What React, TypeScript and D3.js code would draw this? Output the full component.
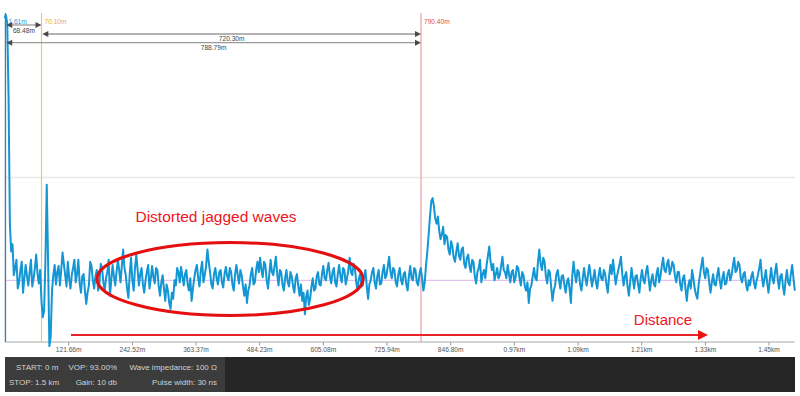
import React from "react";
import * as d3 from "d3";

// ---- data ----
const SAMPLE_STEP_M = 2.5; // trace sampled every 2.5 m from 0 to 1500 m
const traceAmplitude: number[] = [
  255, 258, 250, 180, 55, 28, 35, 5, 12, 20, -8, -2, 10, 18, -12, 2, 15, 4, -5, 8,
  20, -6, 2, 12, 25, 6, -3, 10, -20, -36, -30, 20, 93, 20, -64, -55, -10, 5, 15, -4,
  8, 14, -5, 10, 27, 16, 5, -6, 18, 2, -8, 5, 12, 20, -2, 6, 20, -3, -12, 4,
  6, -10, -23, -12, -5, 18, 14, 0, -8, 4, 10, -10, -3, 16, 12, -2, -10, 2, 8, 20,
  -15, 0, 15, 4, -5, 8, 20, 10, -2, 14, 30, 12, 5, -8, -17, 6, 22, 0, -10, 12,
  25, 10, -5, 6, 12, -4, -12, 0, 8, 15, -8, 2, 14, 3, -3, 12, 10, -6, -15, -2,
  5, -8, -20, -4, -10, -22, -28, -12, -18, 0, -5, 12, 8, -2, 13, 4, -5, 6, 10, -4,
  -10, 2, -20, -8, 2, 10, 15, 2, -6, 10, 18, -2, 5, 14, 30, 18, 8, -4, -8, 6,
  12, 2, -4, 8, 10, -2, -7, 6, 13, 4, 0, 12, 8, -4, -10, 6, 15, 5, -3, 10,
  5, -6, -15, -4, -22, -10, -5, 6, 12, -4, -2, 10, 18, 8, 22, 10, 3, 18, 15, 0,
  -8, 6, 20, 8, 5, 14, 23, 6, -5, 10, 8, -4, -10, 2, 10, -2, -6, 8, 4, -6,
  -12, 2, 6, -6, -15, -4, -20, -12, -33, -16, -10, -24, -18, -6, 2, -10, -8, 4, 8, -4,
  -5, 6, 14, 2, 0, 10, 17, 4, -3, 8, 12, -2, -6, 6, 15, 4, -2, 12, 10, -4,
  2, 10, 22, 8, 5, 16, 12, -2, -10, 2, 6, -6, -5, 4, 10, -6, -18, -4, 0, 8,
  12, -2, -8, 4, 10, -4, -3, 8, 15, 2, 5, 14, 23, 8, 2, 12, 10, -2, -6, 6,
  12, 0, -4, 6, 8, -4, -10, 4, 14, 2, 0, 12, 10, -2, -5, 6, 12, 2, -10, -2,
  15, 28, 45, 62, 77, 80, 72, 60, 55, 62, 48, 40, 45, 52, 35, 44, 42, 30, 25, 38,
  33, 22, 18, 28, 36, 24, 20, 30, 32, 16, 12, 22, 25, 14, 8, 20, 18, 4, -3, 8,
  12, 20, -2, 6, 10, 2, 15, 24, 33, 18, 10, 16, 0, 6, 12, 2, 5, 14, 23, 10,
  8, 2, 15, 6, -2, 8, 10, -2, 3, 14, 12, 2, -5, 8, 5, -6, -10, -2, -22, -8,
  -5, 4, 12, 2, 0, 18, 30, 16, 10, 22, 18, 4, -3, 10, 8, -6, -20, -10, -5, 6,
  10, 0, -8, 4, 5, -4, -12, -2, 2, -8, -22, 4, 18, 6, -2, 10, 8, -4, -10, 2,
  12, 2, -5, 6, 15, 4, -6, 2, 10, -2, -8, 4, 12, 2, 0, 10, 6, -4, -12, 4,
  15, 6, 20, 8, -4, 4, 10, 16, 23, 6, -5, 4, 8, -6, -15, -2, 12, 2, -8, 4,
  5, -4, -12, 2, 10, 0, -3, 8, 14, 2, -10, 0, 6, -4, -6, 6, 12, -2, 4, 14,
  22, 10, 8, 16, 20, 6, 10, 18, 15, 4, -2, 8, 8, -4, -10, 2, 5, -8, -20, -6,
  0, -8, 10, 2, -8, -14, -18, -4, 5, 14, 22, 8, 2, 12, 10, -2, -12, -2, 6, -4,
  -5, 4, 12, 0, -8, 2, 8, -4, -3, 6, 10, 0, 5, 14, 22, 8, 10, 18, 15, 2,
  -2, 6, 8, -4, -10, 0, -5, 4, 8, -2, -8, 0, 5, 12, 20, 4, -6, 2, 10, -2,
  -12, 0, 12, 2, -3, 8, 16, 2, -8, 4, 6, -6, -14, 0, 10, -2, -5, 6, 15, 2, -10,
];

const tickValues: number[] = [121.66, 242.52, 363.37, 484.23, 605.08, 725.94, 846.8, 967.65, 1088.51, 1209.37, 1330.22, 1451.08];
const tickLabels: string[] = ["121.66m", "242.52m", "363.37m", "484.23m", "605.08m", "725.94m", "846.80m", "0.97km", "1.09km", "1.21km", "1.33km", "1.45km"];

const markerNames: string[] = ["1.61m", "70.10m", "790.40m"];
const markerPositions: number[] = [1.61, 70.1, 790.4];
const markerColors: string[] = ["#2b8fd6", "#f3c27a", "#e7a2a2"];
const markerTextColors: string[] = ["#3a8fd8", "#f0a63a", "#d9534f"];

const spanFrom: number[] = [1.61, 70.1, 1.61];
const spanTo: number[] = [70.1, 790.4, 790.4];
const spanLabels: string[] = ["68.48m", "720.30m", "788.79m"];

const infoRow1: string[] = ["START: 0 m", "VOP: 93.00%", "Wave impedance: 100 Ω"];
const infoRow2: string[] = ["STOP: 1.5 km", "Gain: 10 db", "Pulse width: 30 ns"];

const gridValues: number[] = [100];

// ---- layout ----
const W = 800, H = 396;
const X0 = 4.6, X1 = 794.8, YTOP = 13, YBOT = 342;

export default function App() {
  const x = d3.scaleLinear().domain([0, 1500]).range([X0, X1]);
  const y = d3.scaleLinear().domain([-60, 260]).range([YBOT, YTOP]);
  const line = d3
    .line<number>()
    .x((_, i) => x(i * SAMPLE_STEP_M))
    .y((v) => y(v));
  const tracePath = line(traceAmplitude) || "";

  const spanY = [25, 34, 42.7];
  const spanLabelY = [33, 41.3, 49.5];

  const arrowHead = (tipX: number, yy: number, dir: number) =>
    `M${tipX},${yy} L${tipX - dir * 6},${yy - 3} L${tipX - dir * 6},${yy + 3} Z`;

  return (
    <svg
      width={W}
      height={H}
      style={{ position: "absolute", left: 0, top: 0, background: "#fff" }}
      fontFamily="'Liberation Sans', Arial, sans-serif"
    >
      {/* grid */}
      {gridValues.map((g) => (
        <line key={g} x1={X0 + 1} x2={X1} y1={y(g)} y2={y(g)} stroke="#e8e8e8" strokeWidth={1.5} />
      ))}
      {/* baseline */}
      <line x1={X0 + 1} x2={X1} y1={y(0)} y2={y(0)} stroke="#dcb2ec" strokeWidth={1} />

      {/* marker lines */}
      {markerPositions.map((m, i) => (
        <line key={i} x1={x(m)} x2={x(m)} y1={YTOP} y2={YBOT} stroke={markerColors[i]} strokeWidth={1.2} />
      ))}

      {/* axes */}
      <line x1={X0 + 0.9} x2={X0 + 0.9} y1={YTOP} y2={YBOT} stroke="#6a6f78" strokeWidth={1.2} />
      <line x1={X0} x2={X1} y1={YBOT} y2={YBOT} stroke="#a8a8a8" strokeWidth={1} />
      {tickValues.map((t, i) => (
        <g key={t}>
          <line x1={x(t)} x2={x(t)} y1={YBOT} y2={YBOT + 3.5} stroke="#999" strokeWidth={1} />
          <text x={x(t)} y={352} textAnchor="middle" fontSize={6.6} fill="#555">
            {tickLabels[i]}
          </text>
        </g>
      ))}

      {/* annotation arrow */}
      <line x1={71} x2={699} y1={335} y2={335} stroke="#e8242a" strokeWidth={2.2} />
      <path d="M708,335 L698,330 L698,340 Z" fill="#ee1111" />

      {/* trace */}
      <path d={tracePath} fill="none" stroke="#1296d4" strokeWidth={2} strokeLinejoin="round" />

      {/* ellipse */}
      <ellipse cx={230} cy={279} rx={133} ry={36.5} fill="none" stroke="#e60f0f" strokeWidth={3} />
      <text x={216} y={222} textAnchor="middle" fontSize={15.5} fill="#f0141c">
        Distorted jagged waves
      </text>
      <text x={663} y={325} textAnchor="middle" fontSize={15} fill="#f0141c">
        Distance
      </text>

      {/* marker labels */}
      {markerPositions.map((m, i) => (
        <text key={i} x={x(m) + 3} y={24.3} fontSize={6.6} fill={markerTextColors[i]}>
          {markerNames[i]}
        </text>
      ))}

      {/* span arrows */}
      {spanFrom.map((f, i) => {
        const a = x(f) + 0.8;
        const b = x(spanTo[i]);
        return (
          <g key={i}>
            <line x1={a + 4} x2={b - 4} y1={spanY[i]} y2={spanY[i]} stroke="#9a9a9a" strokeWidth={1.3} />
            <path d={arrowHead(a, spanY[i], -1)} fill="#4a4a4a" />
            <path d={arrowHead(b, spanY[i], 1)} fill="#4a4a4a" />
            <text x={(a + b) / 2} y={spanLabelY[i]} textAnchor="middle" fontSize={6.6} fill="#444">
              {spanLabels[i]}
            </text>
          </g>
        );
      })}

      {/* info panel */}
      <rect x={5} y={357} width={790} height={35} fill="#262626" />
      <rect x={5} y={357} width={220} height={35} fill="#3c3c3c" />
      <text x={16} y={370} fontSize={8} fill="#d2d2d2">{infoRow1[0]}</text>
      <text x={117} y={370} fontSize={8} fill="#d2d2d2" textAnchor="end">{infoRow1[1]}</text>
      <text x={217} y={370} fontSize={8} fill="#d2d2d2" textAnchor="end">{infoRow1[2]}</text>
      <text x={9} y={385} fontSize={8} fill="#d2d2d2">{infoRow2[0]}</text>
      <text x={117} y={385} fontSize={8} fill="#d2d2d2" textAnchor="end">{infoRow2[1]}</text>
      <text x={217} y={385} fontSize={8} fill="#d2d2d2" textAnchor="end">{infoRow2[2]}</text>
    </svg>
  );
}
